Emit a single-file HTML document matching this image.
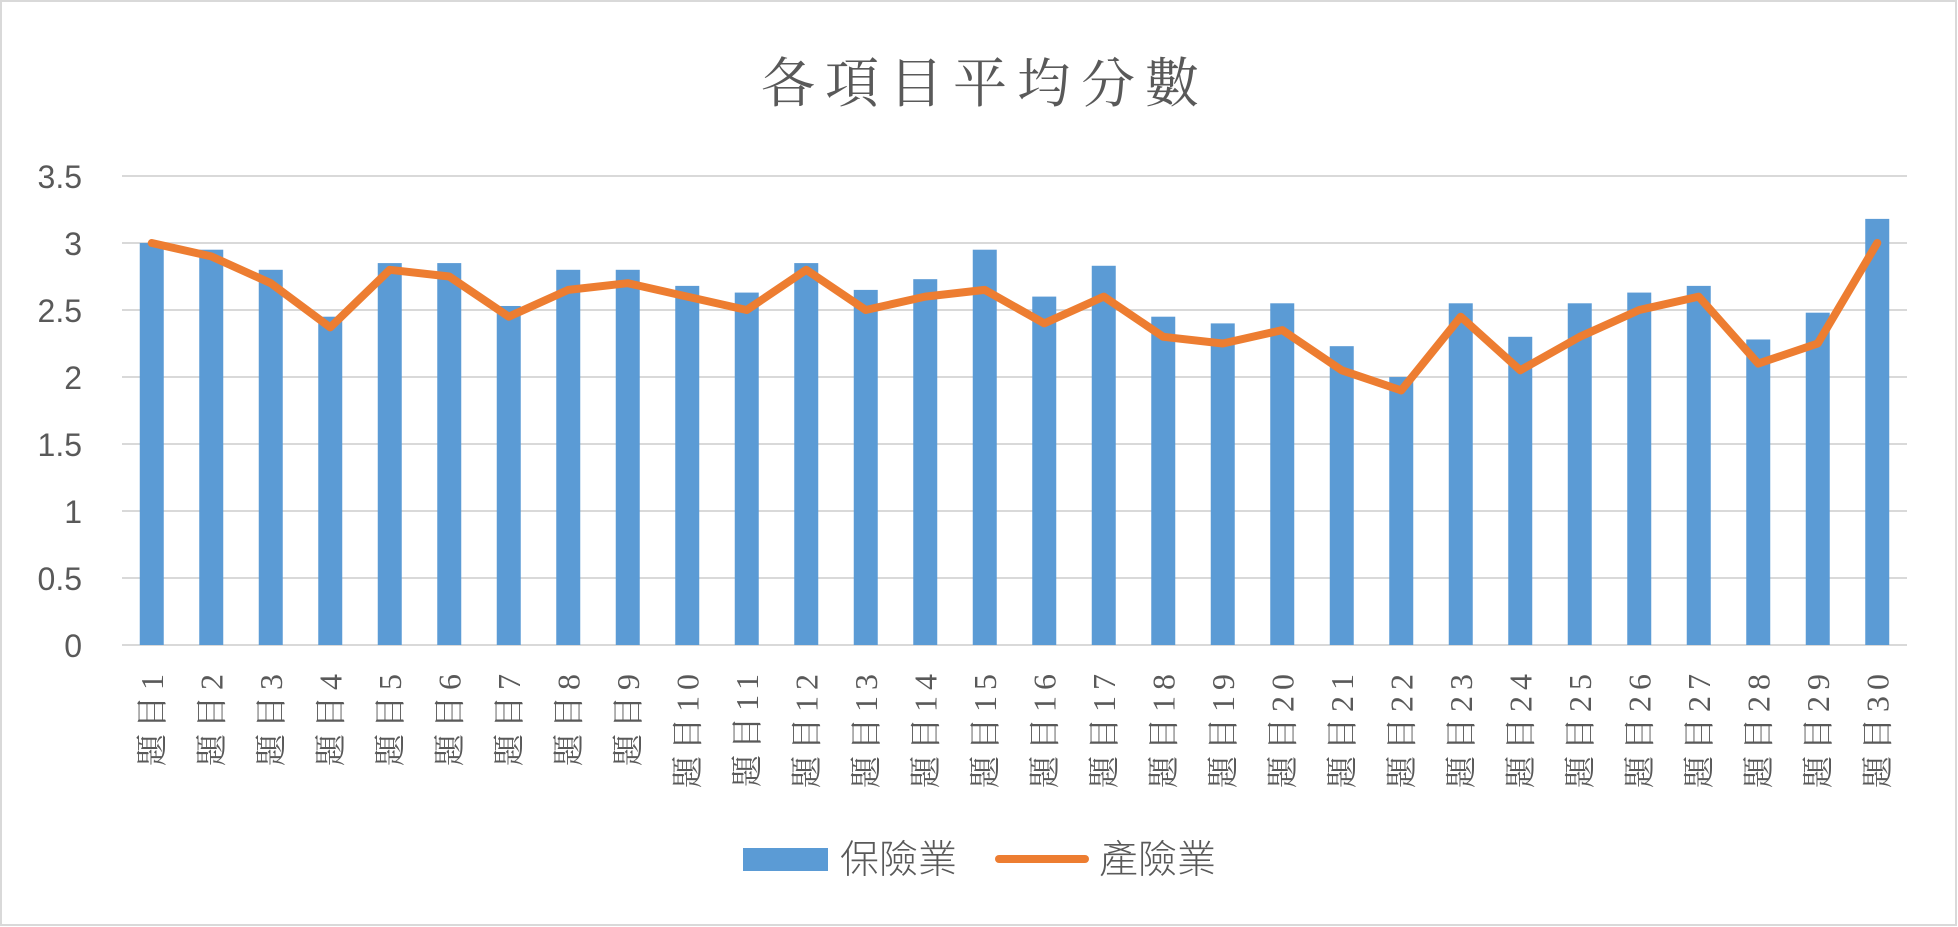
<!DOCTYPE html>
<html><head><meta charset="utf-8"><style>
html,body{margin:0;padding:0;background:#fff;}
svg{display:block;}
</style></head><body>
<svg id="c" width="1958" height="927" xmlns="http://www.w3.org/2000/svg">
<rect x="1" y="1" width="1955" height="924" fill="#fff" stroke="#d9d9d9" stroke-width="2"/>
<text x="985" y="102" text-anchor="middle" font-family="'Liberation Serif','Noto Serif CJK TC','Noto Serif CJK SC',serif" font-size="54" letter-spacing="10" fill="#595959">各項目平均分數</text>
<g id="grid"></g>
<g id="bars"></g>
<polyline id="line" fill="none" stroke="#ed7d31" stroke-width="8" stroke-linejoin="round" stroke-linecap="round"/>
<g id="xl"></g>
<rect x="743" y="848" width="85" height="23" fill="#5b9bd5"/>
<text x="840" y="873" font-family="'Liberation Sans','Noto Sans CJK TC',sans-serif" font-weight="300" font-size="39" fill="#595959">保險業</text>
<line x1="999" y1="859" x2="1085" y2="859" stroke="#ed7d31" stroke-width="8" stroke-linecap="round"/>
<text x="1099" y="873" font-family="'Liberation Sans','Noto Sans CJK TC',sans-serif" font-weight="300" font-size="39" fill="#595959">產險業</text>
</svg>
<script>
var NS="http://www.w3.org/2000/svg";
function el(t,a,p,txt){var e=document.createElementNS(NS,t);for(var k in a)e.setAttribute(k,a[k]);if(txt!=null)e.textContent=txt;p.appendChild(e);return e;}
var bars=[3.0,2.95,2.8,2.45,2.85,2.85,2.53,2.8,2.8,2.68,2.63,2.85,2.65,2.73,2.95,2.6,2.83,2.45,2.4,2.55,2.23,2.0,2.55,2.3,2.55,2.63,2.68,2.28,2.48,3.18];
var line=[3.0,2.9,2.7,2.37,2.8,2.75,2.45,2.65,2.7,2.6,2.5,2.8,2.5,2.6,2.65,2.4,2.6,2.3,2.25,2.35,2.05,1.9,2.45,2.05,2.3,2.5,2.6,2.1,2.25,3.0];
function Y(v){return 645-134*v;}
function X(i){return 122+59.5*(i+0.5);}
var g=document.getElementById('grid');
var labs=["0","0.5","1","1.5","2","2.5","3","3.5"];
for(var k=0;k<8;k++){var y=Y(k*0.5);
el('line',{x1:122,x2:1907,y1:y,y2:y,stroke:'#d9d9d9','stroke-width':2},g);
el('text',{x:82,y:y+12,'text-anchor':'end','font-family':"'Liberation Sans','DejaVu Sans',sans-serif",'font-size':32,fill:'#595959'},g,labs[k]);}
var b=document.getElementById('bars');
for(var i=0;i<30;i++){el('rect',{x:X(i)-12,y:Y(bars[i]),width:24,height:645-Y(bars[i]),fill:'#5b9bd5'},b);}
var pts=[];for(var i=0;i<30;i++)pts.push(X(i)+','+Y(line[i]));
document.getElementById('line').setAttribute('points',pts.join(' '));
var xl=document.getElementById('xl');
for(var i=0;i<30;i++){var x=X(i)+11,y=668;
el('text',{x:0,y:0,transform:'translate('+x+','+y+') rotate(-90)','text-anchor':'end','font-family':"'Liberation Serif','Noto Serif CJK TC',serif",'font-size':32,'letter-spacing':6,fill:'#595959'},xl,'題目'+(i+1));}
</script>
</body></html>
